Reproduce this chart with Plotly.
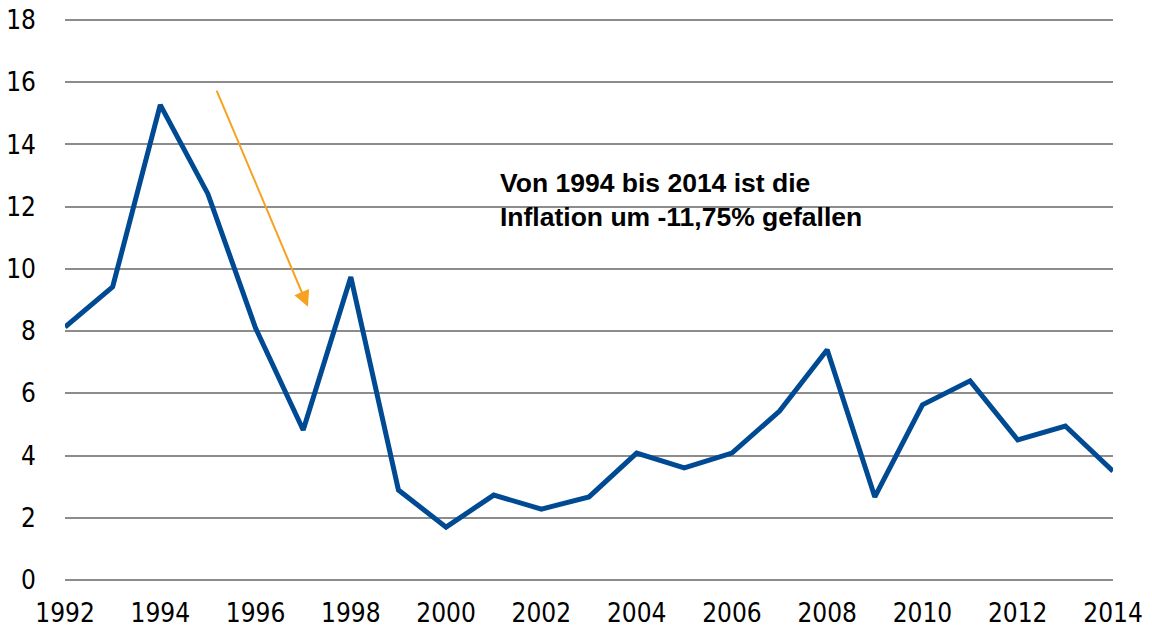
import plotly.graph_objects as go

years = list(range(1992, 2015))
inflation = [8.13, 9.42, 15.27, 12.41, 8.10, 4.82, 9.74, 2.89, 1.70, 2.73, 2.28, 2.67,
             4.08, 3.60, 4.08, 5.43, 7.40, 2.67, 5.63, 6.40, 4.50, 4.95, 3.50]
x_ticks = list(range(1992, 2015, 2))
y_ticks = list(range(0, 19, 2))
note = "Von 1994 bis 2014 ist die<br>Inflation um -11,75% gefallen"

fig = go.Figure()
fig.add_trace(go.Scatter(x=years, y=inflation, mode="lines",
                         line=dict(color="#004a93", width=5), showlegend=False))

fig.add_annotation(x=1997.1, y=8.78, ax=1995.17, ay=15.78, xref="x", yref="y",
                   axref="x", ayref="y", text="", showarrow=True,
                   arrowhead=2, arrowsize=1.6, arrowwidth=2, arrowcolor="#f7a21f")
fig.add_annotation(x=2001.08, y=12.2, xref="x", yref="y", text="<b>" + note + "</b>",
                   showarrow=False, xanchor="left", yanchor="middle", align="left",
                   font=dict(family="Liberation Sans, Arial", size=26.5, color="#000000"))

tickfont = dict(family="DejaVu Sans Condensed", size=26, color="#000000")
pad = 3 / 31.11
fig.update_xaxes(range=[1992, 2014], tickvals=x_ticks, ticktext=[str(v) for v in x_ticks],
                 showgrid=False, zeroline=False, showline=False, ticks="",
                 tickfont=tickfont, ticklabelstandoff=12, automargin=False,
                 ticklabeloverflow="allow")
fig.update_yaxes(range=[-pad, 18 + pad], tickvals=y_ticks, showgrid=True, gridcolor="#8c8c8c",
                 gridwidth=2, zeroline=False, showline=False, ticks="",
                 tickfont=tickfont, ticklabelstandoff=28, automargin=False,
                 ticklabeloverflow="allow")
fig.update_layout(width=1152, height=633, plot_bgcolor="white", paper_bgcolor="white",
                  margin=dict(l=65, r=39, t=17, b=50))
fig.write_html("out.html", config={"displayModeBar": False},
               post_script="document.body.style.margin='0';document.body.style.overflow='hidden';")
